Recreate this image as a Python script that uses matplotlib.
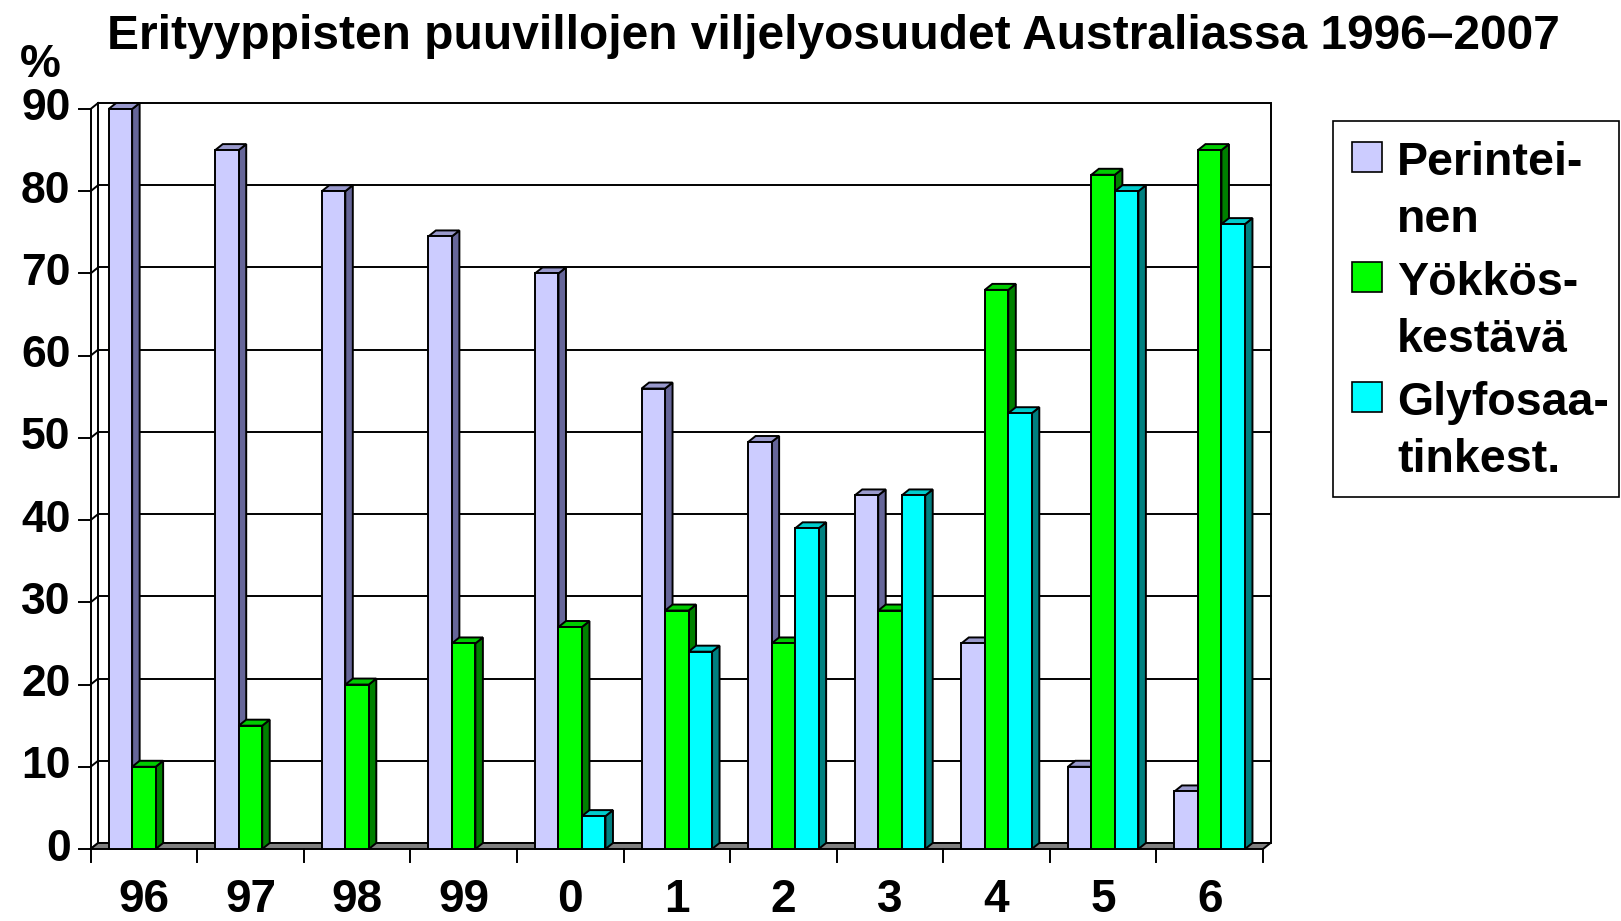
import matplotlib
matplotlib.use("Agg")
import matplotlib.pyplot as plt
from matplotlib.patches import Polygon, Rectangle
from matplotlib.lines import Line2D

# ---- data ----
categories = ["96", "97", "98", "99", "0", "1", "2", "3", "4", "5", "6"]
perinteinen = [90, 85, 80, 74.5, 70, 56, 49.5, 43, 25, 10, 7]
yokkoskestava = [10, 15, 20, 25, 27, 29, 25, 29, 68, 82, 85]
glyfosaatinkest = [0, 0, 0, 0, 4, 24, 39, 43, 53, 80, 76]
series_names = ["Perintei-\nnen", "Yökkös-\nkestävä", "Glyfosaa-\ntinkest."]
yticks = [0, 10, 20, 30, 40, 50, 60, 70, 80, 90]
title = "Erityyppisten puuvillojen viljelyosuudet Australiassa 1996–2007"

face_colors = ["#CCCCFF", "#00FF00", "#00FFFF"]
side_colors = ["#666699", "#008000", "#008080"]
top_colors = ["#9999CC", "#00CC00", "#00CCCC"]

plt.rcParams['font.family'] = ['Liberation Sans', 'DejaVu Sans']
plt.rcParams['font.weight'] = 'bold'

W, H = 1621, 921
fig = plt.figure(figsize=(W / 100, H / 100), dpi=100)

# front plane pixel extents
X0, X1 = 90.6, 1263.0
Y0, Y1 = 849.0, 109.0
ax = fig.add_axes([X0 / W, 1 - Y0 / H, (X1 - X0) / W, (Y0 - Y1) / H])
n = len(categories)
ymax = 90
ax.set_xlim(0, n)
ax.set_ylim(0, ymax)
ax.axis('off')

pxx = (X1 - X0) / n
pxy = (Y0 - Y1) / ymax
dx = 7.5 / pxx
dy = 6.0 / pxy
lw = 1.4

# back wall
wall = Rectangle((dx, dy), n, ymax, facecolor='white', edgecolor='black',
                 lw=lw, clip_on=False, zorder=1)
ax.add_patch(wall)
for t in yticks[1:-1]:
    ax.add_line(Line2D([dx, n + dx], [t + dy, t + dy], color='black', lw=lw,
                       clip_on=False, zorder=1.5))
# left side connectors
ax.add_line(Line2D([0, 0], [0, ymax], color='black', lw=lw, clip_on=False, zorder=1.5))
for t in yticks:
    ax.add_line(Line2D([0, dx], [t, t + dy], color='black', lw=lw, clip_on=False, zorder=1.5))
    ax.add_line(Line2D([-12 / pxx, 0], [t, t], color='black', lw=lw, clip_on=False, zorder=1.5))
    ax.text(-20 / pxx, t, str(t), ha='right', va='center', fontsize=32,
            fontweight='bold', clip_on=False)

# floor
floor = Polygon([(0, 0), (n, 0), (n + dx, dy), (dx, dy)], closed=True,
                facecolor='#808080', edgecolor='black', lw=lw, clip_on=False, zorder=2)
ax.add_patch(floor)
for i in range(n + 1):
    ax.add_line(Line2D([i, i], [0, -13 / pxy], color='black', lw=lw, clip_on=False, zorder=2))

# bars
w = 23.5 / pxx
series = [perinteinen, yokkoskestava, glyfosaatinkest]
z = 3
for i in range(n):
    for j, s in enumerate(series):
        v = s[i]
        if v <= 0:
            continue
        x = i + 0.5 - 1.5 * w + j * w
        side = Polygon([(x + w, 0), (x + w + dx, dy), (x + w + dx, v + dy), (x + w, v)],
                       closed=True, facecolor=side_colors[j], edgecolor='black',
                       lw=lw, clip_on=False, zorder=z)
        top = Polygon([(x, v), (x + w, v), (x + w + dx, v + dy), (x + dx, v + dy)],
                      closed=True, facecolor=top_colors[j], edgecolor='black',
                      lw=lw, clip_on=False, zorder=z)
        ax.add_patch(side)
        ax.add_patch(top)
        ax.bar([x], [v], width=w, align='edge', color=face_colors[j],
               edgecolor='black', lw=lw, zorder=z + 0.5, clip_on=False)
        z += 1

# category labels
for i, c in enumerate(categories):
    ax.text(i + 0.5, -(900 - Y0) / pxy, c, ha='center', va='center', fontsize=33,
            fontweight='bold', clip_on=False)

# title and unit
fig.text(833 / W, 1 - 49 / H, title, ha='center', va='baseline', fontsize=34.5,
         fontweight='bold')
fig.text(40 / W, 1 - 77 / H, "%", ha='center', va='baseline', fontsize=33,
         fontweight='bold')

# legend (manual)
fig.patches.append(Rectangle((1333 / W, 1 - 497 / H), (1619 - 1333) / W, (497 - 121) / H,
                             transform=fig.transFigure, facecolor='white',
                             edgecolor='black', lw=1.2, figure=fig))
entry_marker_center = [157, 277, 397]
entry_baseline = [175, 295, 415]
line_gap = 57
for j, name in enumerate(series_names):
    yc = entry_marker_center[j]
    fig.patches.append(Rectangle((1352 / W, 1 - (yc + 15) / H), 30 / W, 30 / H,
                                 transform=fig.transFigure, facecolor=face_colors[j],
                                 edgecolor='black', lw=1.2, figure=fig))
    for k, line in enumerate(name.split("\n")):
        fig.text(1397 / W, 1 - (entry_baseline[j] + k * line_gap) / H, line,
                 ha='left', va='baseline', fontsize=33.5, fontweight='bold')

fig.savefig("out.png", dpi=100)
